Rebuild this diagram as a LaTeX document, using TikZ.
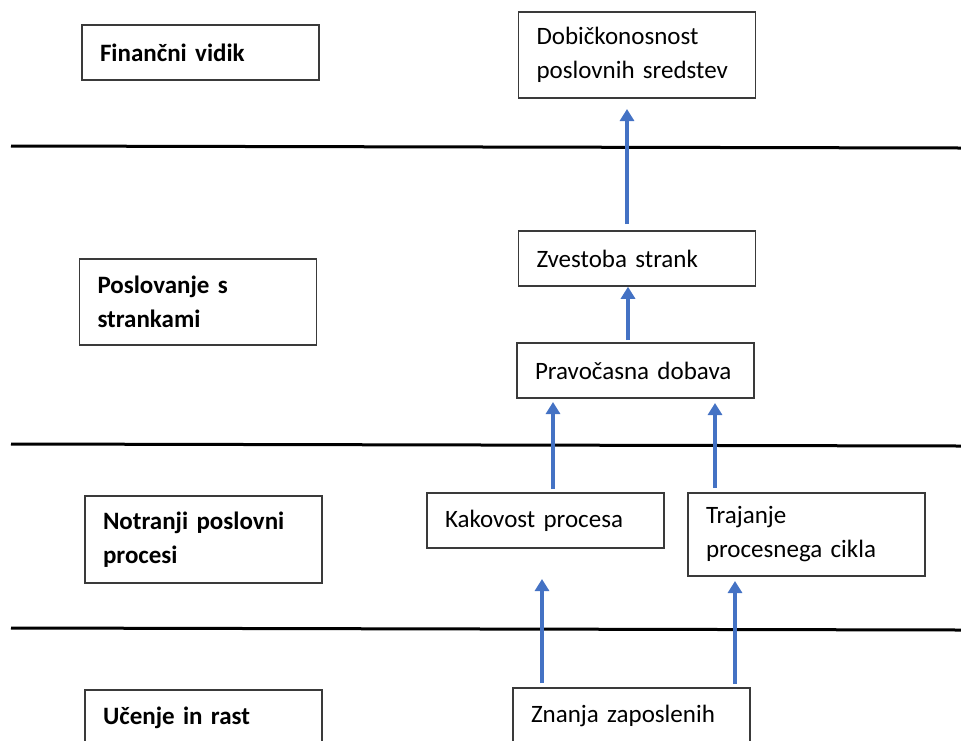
\documentclass[tikz,border=0pt]{standalone}
\usepackage{fontspec}
\setmainfont{Carlito}
\usetikzlibrary{arrows.meta,calc}
\definecolor{arrowblue}{HTML}{4472C4}
\definecolor{boxline}{HTML}{3A3A3A}
\begin{document}
\begin{tikzpicture}[x=1pt,y=-1pt,
  box/.style={draw=boxline,line width=1.5pt,rectangle,minimum width=237pt,minimum height=55pt,
    text width=201pt,inner xsep=18pt,inner ysep=0pt,
    execute at begin node={\raggedright\hyphenpenalty=10000 },
    font=\fontsize{25}{34}\selectfont},
  tallbox/.style={box,minimum height=86pt},
  sidebox/.style={box,font=\fontsize{25}{34}\selectfont\bfseries},
  sidetall/.style={sidebox,minimum height=86pt},
  sep/.style={line width=3pt,black},
  flow/.style={line width=3.5pt,arrowblue,-{Triangle[width=14pt,length=12pt]}}]
\clip (0,0) rectangle (961,740);
% separator lines
\coordinate (s1l) at (11,146); \coordinate (s1r) at (961,148);
\coordinate (s2l) at (11,444); \coordinate (s2r) at (961,446);
\coordinate (s3l) at (11,628); \coordinate (s3r) at (961,630);
\draw[sep] (s1l) -- (s1r);
\draw[sep] (s2l) -- (s2r);
\draw[sep] (s3l) -- (s3r);
% left perspective boxes
\node[sidebox] (fin) at (200.5,52.5) {Finančni vidik};
\node[sidetall] (pos) at (198,302) {Poslovanje s\\strankami};
\node[sidetall,minimum height=87pt] (not) at (203.5,539.5) {Notranji poslovni\\procesi};
\node[sidebox] (uce) at (203.5,717.5) {Učenje in rast};
% right boxes
\node[tallbox] (dob) at (637,55) {Dobičkonosnost\\poslovnih sredstev};
\node[box] (zve) at (637,258.5) {Zvestoba strank};
\node[box] (pra) at (635.5,370.5) {Pravočasna dobava};
\node[box] (kak) at (545.5,520.5) {Kakovost procesa};
\node[box,minimum height=83pt] (tra) at (806.5,534.5) {Trajanje\\procesnega cikla};
\node[box] (zna) at (631.5,715.5) {Znanja zaposlenih};
% arrows
\coordinate (a1s) at (627,224); \coordinate (a1e) at (627,109);
\coordinate (a2s) at (628,340);
\coordinate (a3s) at (553,489); \coordinate (a3e) at (553,402);
\coordinate (a4s) at (715,488); \coordinate (a4e) at (715,403);
\coordinate (a5s) at (542,683); \coordinate (a5e) at (542,579);
\coordinate (a6s) at (735,684); \coordinate (a6e) at (735,581);
\draw[flow] (a1s) -- (a1e);
\draw[flow] (a2s) -- (a2s |- zve.south);
\draw[flow] (a3s) -- (a3e);
\draw[flow] (a4s) -- (a4e);
\draw[flow] (a5s) -- (a5e);
\draw[flow] (a6s) -- (a6e);
\end{tikzpicture}
\end{document}
